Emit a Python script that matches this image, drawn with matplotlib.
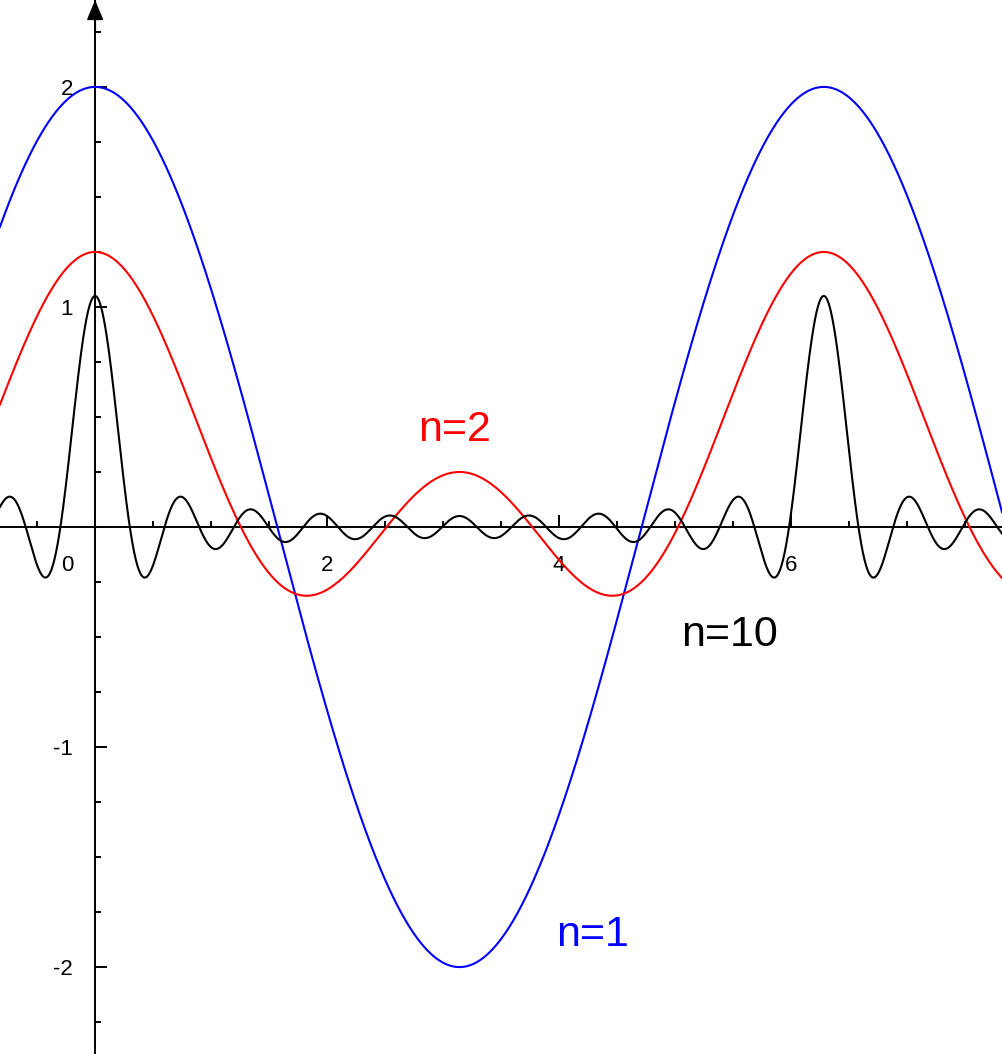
import numpy as np
import matplotlib.pyplot as plt
from matplotlib.ticker import MultipleLocator, FuncFormatter

plt.rcParams['font.family'] = ['Liberation Sans', 'DejaVu Sans']

# three curves: (const + 2*sum_{k=1..n} cos(kx)) / scale
labels = ["n=1", "n=2", "n=10"]
orders = [1, 2, 10]
const_terms = [0, 1, 1]
scales = [1, 4, 20]
colors = ["#0000ff", "#ff0000", "#000000"]

x_min, x_max = -0.82, 7.82
y_min, y_max = -2.395, 2.395

x = np.linspace(x_min, x_max, 3000)

fig = plt.figure(figsize=(10.02, 10.54), dpi=100)
ax = fig.add_axes([0, 0, 1, 1])

for n, c, s, col in zip(orders, const_terms, scales, colors):
    y = c + 2 * sum(np.cos(k * x) for k in range(1, n + 1))
    ax.plot(x, y / s, color=col, lw=1.5, zorder=3)

# curve labels
ax.text(4.29, -1.855, labels[0], color=colors[0], fontsize=31, ha="center", va="center")
ax.text(3.10, 0.44, labels[1], color=colors[1], fontsize=31, ha="center", va="center")
ax.text(5.47, -0.49, labels[2], color=colors[2], fontsize=31, ha="center", va="center")

ax.set_xlim(x_min, x_max)
ax.set_ylim(y_min, y_max)

# axes through the origin
for side in ["top", "right"]:
    ax.spines[side].set_visible(False)
for side in ["left", "bottom"]:
    ax.spines[side].set_position(("data", 0))
    ax.spines[side].set_linewidth(1.4)
    ax.spines[side].set_zorder(2)

ax.xaxis.set_major_locator(MultipleLocator(2))
ax.xaxis.set_minor_locator(MultipleLocator(0.5))
ax.yaxis.set_major_locator(MultipleLocator(1))
ax.yaxis.set_minor_locator(MultipleLocator(0.25))

fmt = FuncFormatter(lambda v, pos: "" if abs(v) < 1e-9 else "%d" % round(v))
ax.xaxis.set_major_formatter(fmt)
ax.yaxis.set_major_formatter(fmt)

ax.tick_params(which="both", direction="in", width=1.4, labelsize=16)
ax.tick_params(which="major", length=8.6)
ax.tick_params(which="minor", length=4.3)
ax.tick_params(axis="x", pad=20)
ax.tick_params(axis="y", pad=16)

# "0" label sits left of the y axis
ax.annotate("0", xy=(0, 0), xytext=(-20, -20), textcoords="offset points",
            ha="center", va="top", fontsize=16)

# arrow head on the y axis
ax.annotate("", xy=(0, y_max), xytext=(0, y_max - 0.15),
            arrowprops=dict(arrowstyle="-|>,head_length=1.2,head_width=0.5",
                            color="black", lw=1.4, mutation_scale=10,
                            shrinkA=0, shrinkB=0))

fig.savefig("out.png", dpi=100)
